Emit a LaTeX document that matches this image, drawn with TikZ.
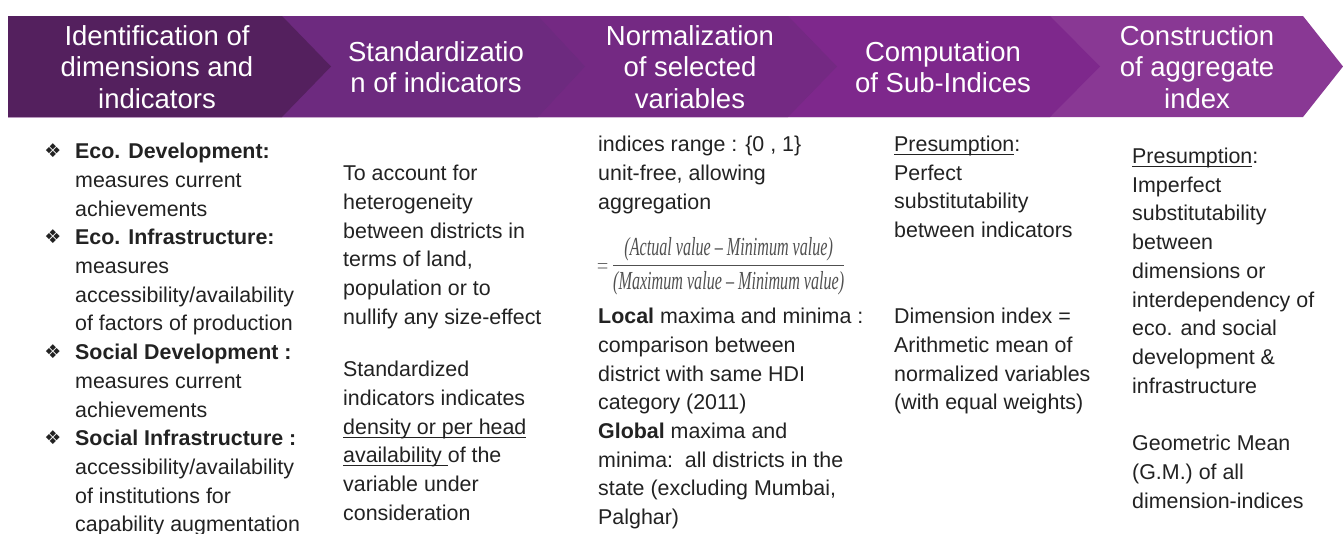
\documentclass[tikz,border=0pt]{standalone}
\usepackage{amsmath}
\usepackage{fontspec}
\usepackage{graphicx}
\setmainfont{Liberation Sans}
\newfontfamily\bulletfont{DejaVu Sans}
\newfontfamily\fracfont{Liberation Serif}
\newcommand{\undl}[1]{\underline{\smash{#1}}}

\definecolor{stepone}{HTML}{54205E}
\definecolor{steptwo}{HTML}{6D2A7F}
\definecolor{stepthree}{HTML}{742983}
\definecolor{stepfour}{HTML}{7E288C}
\definecolor{stepfive}{HTML}{893894}
\definecolor{bodyink}{HTML}{222222}
\definecolor{fracgray}{HTML}{505050}

\tikzset{
  headtext/.style={text=white, align=center, inner sep=0pt, font=\fontsize{27.5}{31.5}\selectfont},
  coltext/.style={anchor=north west, inner sep=0pt, align=left, text=bodyink, font=\fontsize{21.4}{28.7}\selectfont},
  bulletmark/.style={inner sep=0pt, text=bodyink, font=\bulletfont\fontsize{19}{19}\selectfont}
}

\begin{document}
\begin{tikzpicture}[x=1pt, y=-1pt]
      \useasboundingbox (0,0) rectangle (1343,533);
      \fill[white] (0,0) rectangle (1343,533);

      % Chevron band, drawn back to front
      \foreach \r/\t/\col in {1303/1343/stepfive, 1050/1100/stepfour, 788/837/stepthree, 538/585/steptwo, 282/331/stepone}
        \fill[\col] (8,16) -- (\r,16) -- (\t,66.5) -- (\r,117) -- (8,117) -- cycle;

      % Step titles
      \node[headtext] (ident) at (157,67) {Identification of\\dimensions and\\indicators};
      \node[headtext] (stand) at (436,67) {Standardizatio\\n of indicators};
      \node[headtext] (norm) at (690,67) {Normalization\\of selected\\variables};
      \node[headtext] (comp) at (943,67) {Computation\\of Sub-Indices};
      \node[headtext] (cons) at (1197,67) {Construction\\of aggregate\\index};

      % Column 1: dimensions
      \foreach \y [count=\i] in {151,237,352,438}
        \node[bulletmark] (bul\i) at (53,\y) {❖};
      \node[coltext] (dims) at (75,143) {\textbf{Eco. Development:}\\measures current\\achievements\\
        \textbf{Eco. Infrastructure:}\\measures\\accessibility/availability\\of factors of production\\
        \textbf{Social Development :}\\measures current\\achievements\\
        \textbf{Social Infrastructure :}\\accessibility/availability\\of institutions for\\capability augmentation};

      % Column 2: standardization
      \node[coltext] (standa) at (343,165) {To account for\\heterogeneity\\between districts in\\terms of land,\\population or to\\nullify any size-effect};
      \node[coltext] (standb) at (343,361) {Standardized\\indicators indicates\\\undl{density or per head}\\\undl{availability\ }of the\\variable under\\consideration};

      % Column 3: normalization
      \node[coltext] (norma) at (598,136) {indices range : \{0 , 1\}\\unit-free, allowing\\aggregation};
      \node[inner sep=0pt, text=fracgray, xscale=0.62, transform shape] (formula) at (721,266)
        {\fracfont\itshape\fontsize{26}{26}\selectfont $=\dfrac{\mbox{(Actual value – Minimum value)}}{\mbox{(Maximum value – Minimum value)}}$};
      \node[coltext] (normb) at (598,308) {\textbf{Local} maxima and minima :\\comparison between\\district with same HDI\\category (2011)\\
        \textbf{Global} maxima and\\minima:\ \ all districts in the\\state (excluding Mumbai,\\Palghar)};

      % Column 4: sub-indices
      \node[coltext] (compa) at (894,140) {\undl{Presumption}:\\Perfect\\substitutability\\between indicators};
      \node[coltext] (compb) at (894,308) {Dimension index =\\Arithmetic mean of\\normalized variables\\(with equal weights)};

      % Column 5: aggregate index
      \node[coltext] (consa) at (1132,152) {\undl{Presumption}:\\Imperfect\\substitutability\\between\\dimensions or\\interdependency of\\eco. and social\\development \&\\infrastructure};
      \node[coltext] (consb) at (1132,435) {Geometric Mean\\(G.M.) of all\\dimension-indices};
\end{tikzpicture}
\end{document}
